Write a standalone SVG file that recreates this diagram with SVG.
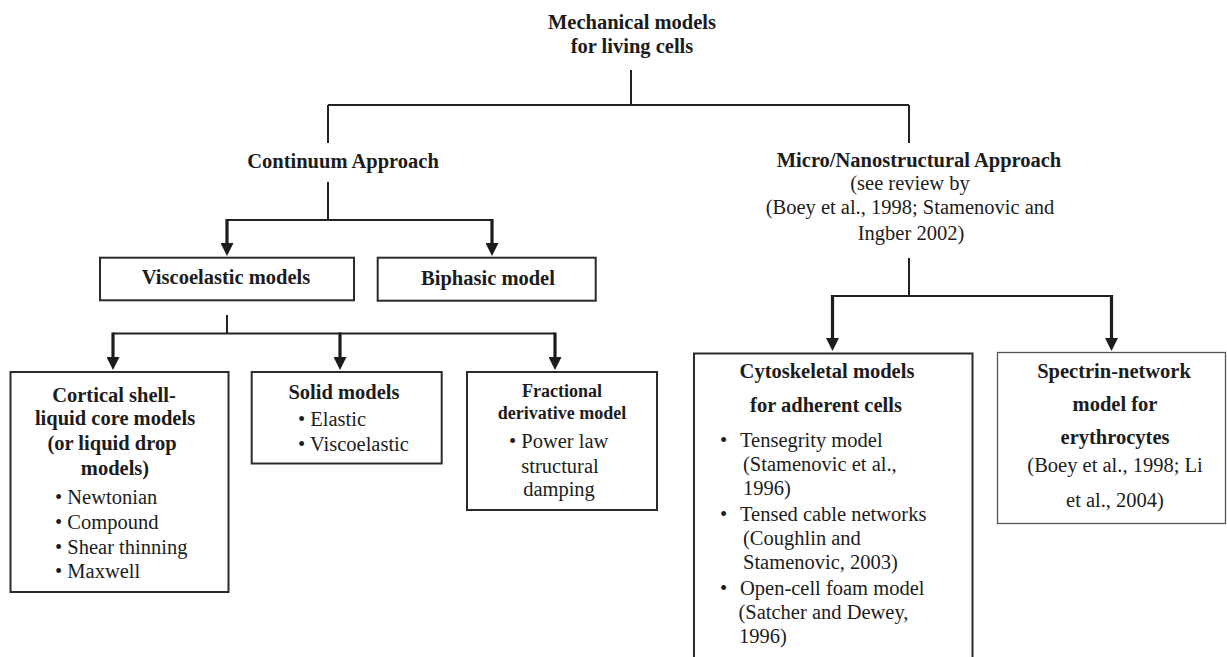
<svg xmlns="http://www.w3.org/2000/svg" width="1227" height="657" viewBox="0 0 1227 657">
  <defs>
    <style>
      text { font-family: "Liberation Serif", "Times New Roman", serif; fill: #1c1c1c; }
      .b { font-weight: bold; font-size: 20.5px; }
      .bs { font-weight: bold; font-size: 18px; }
      .r { font-size: 20.5px; }
      .c { text-anchor: middle; }
      .box { fill: #ffffff; stroke: #2a2a2a; stroke-width: 2; }
      .box-thin { fill: #ffffff; stroke: #555555; stroke-width: 1.3; }
      .line { fill: none; stroke: #222222; stroke-width: 2; }
      .shaft { fill: none; stroke: #1c1c1c; stroke-width: 3.2; marker-end: url(#head); }
    </style>
    <!-- filled arrow head; the tip sits 10px past the end of the shaft -->
    <marker id="head" viewBox="0 0 13 13" refX="3" refY="6.5" markerWidth="13" markerHeight="13" markerUnits="userSpaceOnUse" orient="auto">
      <path d="M0,0 L13,6.5 L0,13 Z" fill="#1c1c1c"/>
    </marker>
  </defs>

  <rect width="1227" height="657" fill="#ffffff"/>

  <!-- connectors -->
  <g id="connectors">
    <!-- root split -->
    <path class="line" d="M631,70 V105"/>
    <path class="line" d="M328,105 H909"/>
    <path class="line" d="M328,105 V143"/>
    <path class="line" d="M909,105 V143"/>
    <!-- continuum branch -->
    <path class="line" d="M328,182 V220"/>
    <path class="line" d="M227,220 H492"/>
    <path class="shaft" d="M227,219 V246"/>
    <path class="shaft" d="M492,219 V246"/>
    <!-- viscoelastic branch -->
    <path class="line" d="M227,315 V333.5"/>
    <path class="line" d="M113,333.5 H555"/>
    <path class="shaft" d="M113,332.5 V360"/>
    <path class="shaft" d="M340,332.5 V360"/>
    <path class="shaft" d="M555,332.5 V360"/>
    <!-- micro/nanostructural branch -->
    <path class="line" d="M909,258 V296"/>
    <path class="line" d="M832.5,296 H1111.5"/>
    <path class="shaft" d="M832.5,295 V341"/>
    <path class="shaft" d="M1111.5,295 V341"/>
  </g>

  <g id="root">
    <text class="b c" x="632" y="29">Mechanical models</text>
    <text class="b c" x="632" y="53">for living cells</text>
  </g>

  <g id="continuum">
    <text class="b c" x="343" y="168">Continuum Approach</text>
  </g>

  <g id="micro">
    <text class="b c" x="919" y="167">Micro/Nanostructural Approach</text>
    <text class="r c" x="910" y="190">(see review by</text>
    <text class="r c" x="910" y="214">(Boey et al., 1998; Stamenovic and</text>
    <text class="r c" x="911" y="240">Ingber 2002)</text>
  </g>

  <g id="viscoelastic">
    <rect class="box" x="100" y="257.7" width="254" height="42.6"/>
    <text class="b c" x="226" y="284">Viscoelastic models</text>
  </g>

  <g id="biphasic">
    <rect class="box" x="377.7" y="257.7" width="218" height="43"/>
    <text class="b c" x="488" y="285">Biphasic model</text>
  </g>

  <g id="cortical">
    <rect class="box" x="10.5" y="372" width="218" height="220"/>
    <text class="b c" x="114" y="402">Cortical shell-</text>
    <text class="b c" x="115" y="425">liquid core models</text>
    <text class="b c" x="112" y="450">(or liquid drop</text>
    <text class="b c" x="115" y="475">models)</text>
    <text class="r" x="55" y="504">• Newtonian</text>
    <text class="r" x="55" y="529">• Compound</text>
    <text class="r" x="55" y="554">• Shear thinning</text>
    <text class="r" x="55" y="578">• Maxwell</text>
  </g>

  <g id="solid">
    <rect class="box" x="251.7" y="372" width="190" height="91.5"/>
    <text class="b c" x="344" y="399">Solid models</text>
    <text class="r" x="298" y="426">• Elastic</text>
    <text class="r" x="298" y="451">• Viscoelastic</text>
  </g>

  <g id="fractional">
    <rect class="box" x="467" y="372" width="190" height="138"/>
    <text class="bs c" x="562" y="397">Fractional</text>
    <text class="bs c" x="562" y="419">derivative model</text>
    <text class="r" x="509" y="448">• Power law</text>
    <text class="r c" x="560" y="473">structural</text>
    <text class="r c" x="559" y="496">damping</text>
  </g>

  <g id="cytoskeletal">
    <rect class="box" x="694" y="353.5" width="278.5" height="320"/>
    <text class="b c" x="827" y="378">Cytoskeletal models</text>
    <text class="b c" x="826" y="411.5">for adherent cells</text>
    <text class="r" x="720" y="447">•</text>
    <text class="r" x="740" y="447">Tensegrity model</text>
    <text class="r" x="743" y="471">(Stamenovic et al.,</text>
    <text class="r" x="743" y="495">1996)</text>
    <text class="r" x="720" y="521">•</text>
    <text class="r" x="740" y="521">Tensed cable networks</text>
    <text class="r" x="743" y="545">(Coughlin and</text>
    <text class="r" x="743" y="569">Stamenovic, 2003)</text>
    <text class="r" x="720" y="594.5">•</text>
    <text class="r" x="740" y="594.5">Open-cell foam model</text>
    <text class="r" x="738.5" y="619">(Satcher and Dewey,</text>
    <text class="r" x="739" y="643">1996)</text>
  </g>

  <g id="spectrin">
    <rect class="box-thin" x="997.5" y="352.5" width="228" height="171"/>
    <text class="b c" x="1114" y="378">Spectrin-network</text>
    <text class="b c" x="1115" y="411">model for</text>
    <text class="b c" x="1115" y="444">erythrocytes</text>
    <text class="r c" x="1115" y="472">(Boey et al., 1998; Li</text>
    <text class="r c" x="1115" y="507">et al., 2004)</text>
  </g>
</svg>
